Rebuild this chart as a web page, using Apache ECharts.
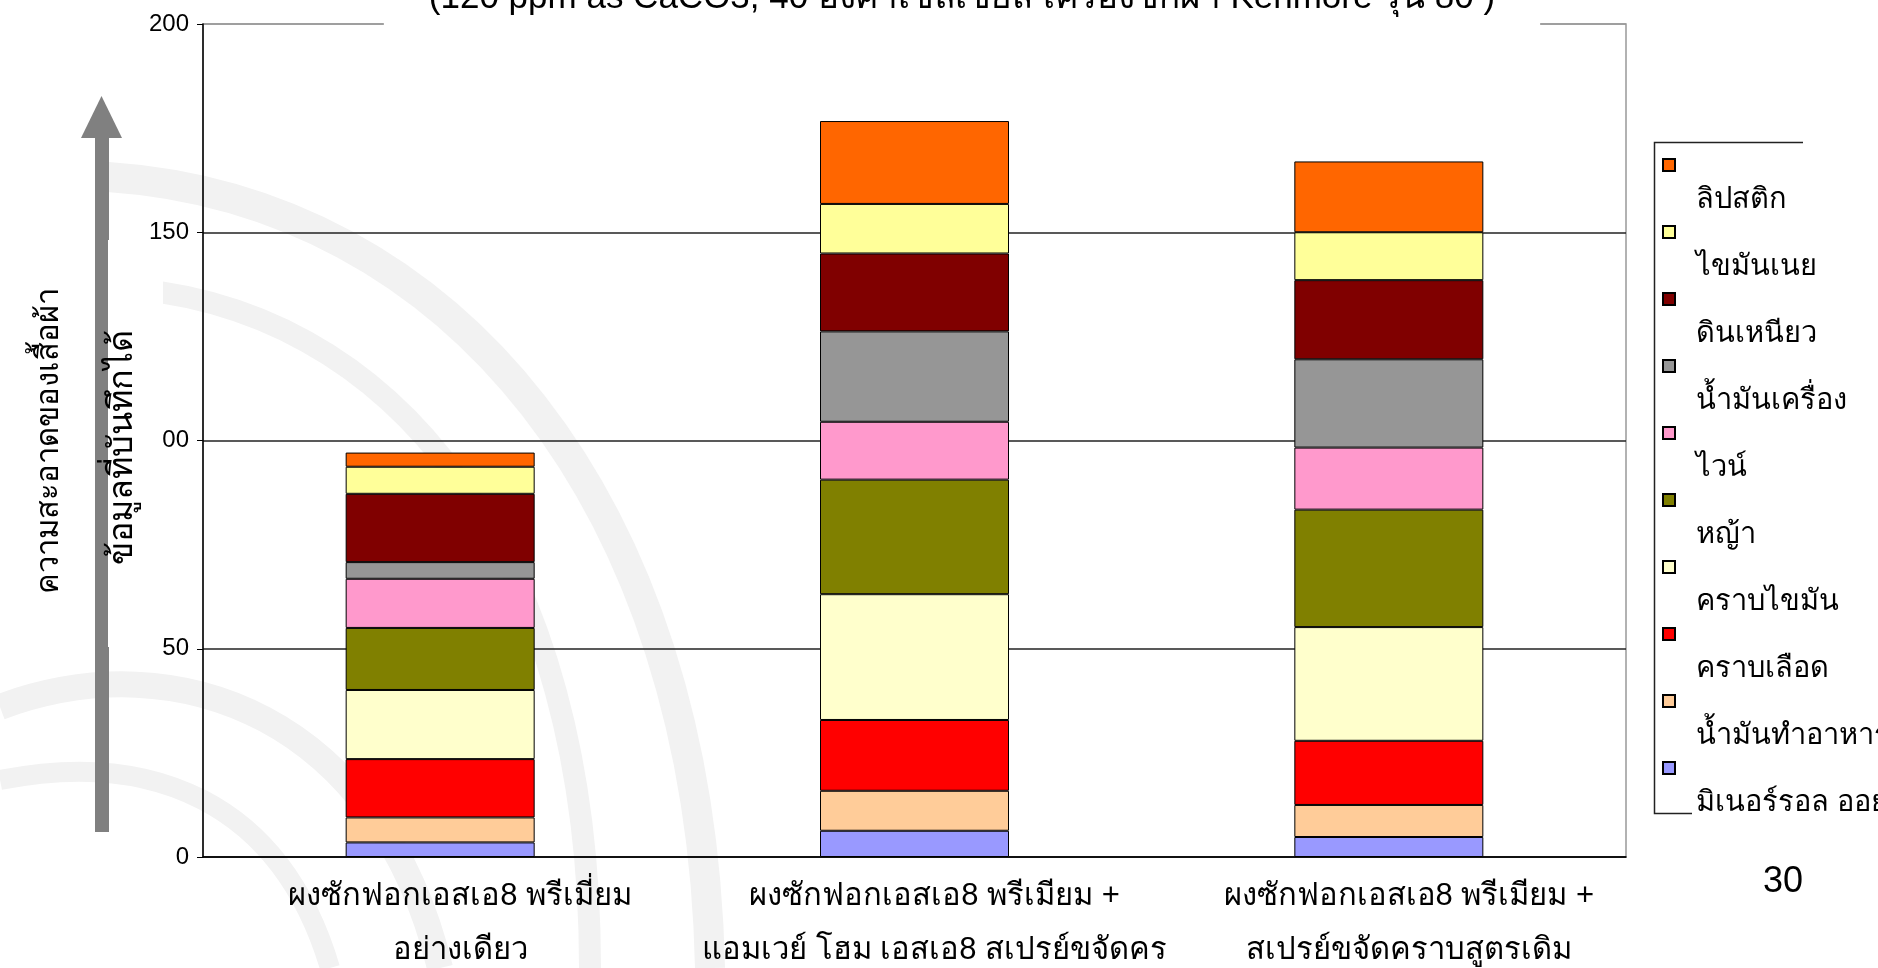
<!DOCTYPE html>
<html style="height: 100%">
<head>
    <meta charset="utf-8">
</head>
<body style="height: 100%; margin: 0; background: #fff">
    <div id="container" style="width: 1878px; height: 968px"></div>
    <script src="https://cdn.jsdelivr.net/npm/echarts@6/dist/echarts.min.js"></script>
    <script type="text/javascript">
        // categories (x axis)
        var products = [
            'ผงซักฟอกเอสเอ8 พรีเมี่ยม\nอย่างเดียว',
            'ผงซักฟอกเอสเอ8 พรีเมียม +\nแอมเวย์ โฮม เอสเอ8 สเปรย์ขจัดคร',
            'ผงซักฟอกเอสเอ8 พรีเมียม +\nสเปรย์ขจัดคราบสูตรเดิม'
        ];
        // stains, bottom of stack first
        var stains = ['มิเนอร์รอล ออย', 'น้ำมันทำอาหาร', 'คราบเลือด', 'คราบไขมัน', 'หญ้า',
            'ไวน์', 'น้ำมันเครื่อง', 'ดินเหนียว', 'ไขมันเนย', 'ลิปสติก'];
        var stainColors = ['#9999FF', '#FFCC99', '#FF0000', '#FFFFCC', '#808000',
            '#FF99CC', '#969696', '#800000', '#FFFF99', '#FF6600'];

        var mineralOil = [3.5, 6.3, 4.8];
        var cookingOil = [6.0, 9.6, 7.7];
        var blood = [14.0, 17.0, 15.4];
        var fat = [16.6, 30.2, 27.3];
        var grass = [14.9, 27.5, 28.2];
        var wine = [11.8, 13.9, 14.9];
        var motorOil = [4.0, 21.7, 21.2];
        var clay = [16.4, 18.7, 19.0];
        var butter = [6.5, 11.9, 11.5];
        var lipstick = [3.4, 19.9, 17.0];
        var stainValues = [mineralOil, cookingOil, blood, fat, grass, wine, motorOil, clay, butter, lipstick];

        var yTicks = [0, 50, 100, 150, 200];

        var FONT = "'Liberation Sans', 'Noto Sans', sans-serif";

        var dom = document.getElementById("container");
        var myChart = echarts.init(dom);

        var series = [];
        for (var i = 0; i < stains.length; i++) {
            series.push({
                name: stains[i],
                type: 'bar',
                stack: 'total',
                barWidth: 189,
                data: stainValues[i],
                itemStyle: { color: stainColors[i], borderColor: '#000', borderWidth: 1 }
            });
        }

        // faint watermark arcs behind the plot
        var arcs = [
            { pts: [[108, 177], [450, 200], [700, 500], [710, 968]], w: 30 },
            { pts: [[108, 287], [400, 300], [590, 560], [590, 968]], w: 22 },
            { pts: [[0, 707], [180, 640], [380, 720], [440, 968]], w: 26 },
            { pts: [[0, 780], [150, 750], [280, 800], [330, 968]], w: 20 }
        ];
        var graphics = arcs.map(function (a) {
            return {
                type: 'bezierCurve', z: -10, silent: true,
                shape: { x1: a.pts[0][0], y1: a.pts[0][1], cpx1: a.pts[1][0], cpy1: a.pts[1][1],
                    cpx2: a.pts[2][0], cpy2: a.pts[2][1], x2: a.pts[3][0], y2: a.pts[3][1] },
                style: { stroke: '#f2f2f2', lineWidth: a.w, fill: null }
            };
        });
        graphics.push(
            // arrow
            { type: 'rect', z: 50, shape: { x: 95, y: 136, width: 14, height: 696 }, style: { fill: '#808080' } },
            { type: 'polygon', z: 50, shape: { points: [[81, 138], [122, 138], [101.5, 96]] }, style: { fill: '#808080' } },
            // white box behind the second label
            { type: 'rect', z: 60, shape: { x: 108, y: 240, width: 55, height: 407 }, style: { fill: '#fff' } },
            {
                type: 'text', z: 70, x: 123, y: 447, rotation: Math.PI / 2,
                style: { text: 'ข้อมูลที่บันทึกได้', font: "34px " + FONT, fill: '#000', align: 'center', verticalAlign: 'middle' }
            },
            // legend frame
            { type: 'polyline', z: 50, shape: { points: [[1803, 142.5], [1654.5, 142.5], [1654.5, 813.5], [1692, 813.5]] },
              style: { stroke: '#222', lineWidth: 1.5, fill: null } },
            {
                type: 'text', z: 50, x: 1783, y: 882,
                style: { text: '30', font: "36px " + FONT, fill: '#000', align: 'center', verticalAlign: 'middle' }
            }
        );

        var option = {
            backgroundColor: '#fff',
            animation: false,
            textStyle: { fontFamily: FONT },
            title: {
                text: '(120 ppm as CaCO3, 40 องศาเซลเซียส เครื่องซักผ้า Kenmore รุ่น 80 )',
                left: 917,
                textAlign: 'center',
                top: -21,
                backgroundColor: '#fff',
                padding: [2, 45, 16, 45],
                textStyle: { fontSize: 35, fontWeight: 'normal', color: '#000', fontFamily: FONT }
            },
            legend: {
                orient: 'vertical',
                left: 1662,
                top: 95,
                padding: 0,
                itemWidth: 12,
                itemHeight: 12,
                itemGap: -73,
                icon: 'rect',
                data: stains.slice().reverse(),
                formatter: function (name) { return '\n' + name; },
                textStyle: { fontSize: 29, lineHeight: 70, color: '#000', padding: [0, 0, 0, 16], fontFamily: FONT }
            },
            grid: {
                left: 203, right: 252, top: 24, bottom: 111,
                outerBoundsMode: 'none',
                show: true, borderColor: '#999', borderWidth: 1.5
            },
            xAxis: {
                type: 'category',
                data: products,
                axisLine: { lineStyle: { color: '#000', width: 1.5 } },
                axisTick: { length: 8, lineStyle: { color: '#000' } },
                axisLabel: { fontSize: 31, lineHeight: 54, color: '#000', margin: 12, interval: 0, padding: [0, 0, 0, 40] }
            },
            yAxis: {
                type: 'value',
                min: yTicks[0],
                max: yTicks[yTicks.length - 1],
                interval: 50,
                name: 'ความสะอาดของเสื้อผ้า',
                nameLocation: 'middle',
                nameRotate: 90,
                nameGap: 138,
                nameTextStyle: { fontSize: 31, color: '#000', fontFamily: FONT },
                axisLine: { show: true, lineStyle: { color: '#000', width: 1.5 } },
                axisTick: { show: true, length: 6, lineStyle: { color: '#000' } },
                axisLabel: { fontSize: 24, color: '#000', margin: 14 },
                splitLine: { lineStyle: { color: ['#222', '#222', '#222', '#222', '#999'], width: 1.5 } }
            },
            graphic: graphics,
            series: series
        };

        myChart.setOption(option);
    </script>
</body>
</html>
